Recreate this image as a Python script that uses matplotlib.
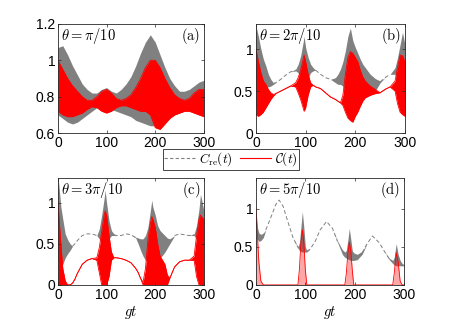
import matplotlib
matplotlib.use("Agg")
import matplotlib.pyplot as plt
from matplotlib.lines import Line2D
import numpy as np

plt.rcParams['mathtext.fontset'] = 'cm'
plt.rcParams['font.family'] = ['Liberation Sans', 'DejaVu Sans']

# ---- data (envelopes) ----
# (a) theta = pi/10
t_a = [0, 10, 20, 30, 40, 50, 60, 70, 80, 90, 100, 110, 120, 130, 140, 150,
       160, 170, 180, 190, 200, 210, 220, 230, 240, 250, 260, 270, 280, 290, 300]
gray_hi_a = [1.07, 1.08, 1.03, 0.97, 0.92, 0.87, 0.84, 0.82, 0.82, 0.84, 0.85, 0.83, 0.82, 0.84, 0.87, 0.91,
             0.97, 1.04, 1.10, 1.14, 1.10, 1.03, 0.96, 0.90, 0.86, 0.83, 0.83, 0.84, 0.86, 0.88, 0.89]
gray_lo_a = [0.70, 0.68, 0.66, 0.65, 0.66, 0.68, 0.70, 0.72, 0.74, 0.745, 0.74, 0.73, 0.72, 0.71, 0.70, 0.69,
             0.67, 0.66, 0.65, 0.64, 0.64, 0.65, 0.67, 0.69, 0.70, 0.71, 0.72, 0.73, 0.72, 0.71, 0.70]
red_hi_a = [1.0, 0.95, 0.90, 0.86, 0.83, 0.80, 0.78, 0.78, 0.80, 0.83, 0.84, 0.82, 0.79, 0.78, 0.79, 0.81,
            0.85, 0.90, 0.96, 1.0, 1.0, 0.96, 0.90, 0.85, 0.81, 0.79, 0.78, 0.79, 0.82, 0.84, 0.84]
red_lo_a = [0.72, 0.70, 0.69, 0.69, 0.70, 0.71, 0.73, 0.745, 0.74, 0.72, 0.71, 0.72, 0.74, 0.75, 0.75, 0.74,
            0.73, 0.72, 0.72, 0.70, 0.63, 0.62, 0.65, 0.68, 0.70, 0.71, 0.72, 0.72, 0.71, 0.70, 0.69]

# (b) theta = 2pi/10
t_b = [0, 5, 10, 15, 20, 25, 30, 35, 40, 50, 60, 70, 80, 85, 90, 95, 97, 100, 105, 110, 115, 120,
       130, 140, 150, 160, 165, 170, 175, 180, 185, 190, 195, 200, 205, 210, 215, 220,
       230, 240, 250, 260, 270, 280, 285, 290, 295, 300]
gray_hi_b = [1.28, 1.15, 1.0, 0.88, 0.8, 0.7, 0.64, 0.6, 0.6, 0.64, 0.69, 0.73, 0.76, 0.82, 0.92, 1.08, 1.15,
             1.02, 0.9, 0.82, 0.78, 0.75, 0.7, 0.66, 0.64, 0.66, 0.7, 0.76, 0.85, 0.98, 1.15, 1.25, 1.1,
             1.02, 0.95, 0.88, 0.82, 0.78, 0.7, 0.65, 0.62, 0.66, 0.7, 0.78, 0.9, 1.05, 1.2, 1.05]
gray_lo_b = [0.3, 0.35, 0.45, 0.52, 0.55, 0.55, 0.56, 0.58, 0.6, 0.64, 0.69, 0.73, 0.74, 0.72, 0.6, 0.5, 0.5,
             0.55, 0.65, 0.72, 0.74, 0.75, 0.7, 0.66, 0.64, 0.6, 0.58, 0.58, 0.56, 0.5, 0.4, 0.35, 0.35,
             0.4, 0.45, 0.5, 0.52, 0.52, 0.5, 0.5, 0.6, 0.66, 0.7, 0.7, 0.6, 0.45, 0.4, 0.4]
red_hi_b = [1.0, 0.85, 0.72, 0.62, 0.58, 0.52, 0.48, 0.46, 0.47, 0.5, 0.53, 0.56, 0.6, 0.66, 0.75, 0.88, 0.93,
            0.85, 0.7, 0.6, 0.57, 0.55, 0.53, 0.48, 0.43, 0.4, 0.38, 0.36, 0.45, 0.7, 0.9, 0.97, 0.95,
            0.9, 0.85, 0.75, 0.67, 0.62, 0.56, 0.52, 0.48, 0.52, 0.55, 0.62, 0.78, 0.93, 0.92, 0.85]
red_lo_b = [0.22, 0.2, 0.22, 0.25, 0.3, 0.35, 0.4, 0.44, 0.47, 0.5, 0.53, 0.56, 0.55, 0.48, 0.4, 0.3, 0.26,
            0.3, 0.45, 0.55, 0.57, 0.55, 0.53, 0.48, 0.43, 0.4, 0.38, 0.36, 0.33, 0.25, 0.18, 0.15, 0.13,
            0.2, 0.25, 0.32, 0.38, 0.42, 0.45, 0.47, 0.48, 0.52, 0.55, 0.5, 0.35, 0.25, 0.22, 0.2]

# (c) theta = 3pi/10
t_c = [0, 3, 6, 10, 15, 20, 25, 30, 35, 40, 50, 60, 70, 80, 85, 90, 95, 97, 100, 105, 110, 115, 120,
       130, 140, 150, 160, 165, 170, 175, 180, 185, 190, 193, 195, 200, 205, 210, 215, 220, 225, 230,
       240, 250, 260, 270, 280, 285, 290, 293, 295, 300]
gray_hi_c = [1.33, 1.15, 0.95, 0.8, 0.62, 0.55, 0.5, 0.47, 0.5, 0.54, 0.6, 0.62, 0.62, 0.6, 0.68, 0.85, 1.05,
             1.15, 1.0, 0.78, 0.66, 0.62, 0.6, 0.6, 0.62, 0.61, 0.58, 0.57, 0.56, 0.56, 0.6, 0.7, 0.9,
             1.03, 0.95, 0.85, 0.72, 0.66, 0.63, 0.6, 0.57, 0.56, 0.6, 0.62, 0.61, 0.6, 0.62, 0.72, 0.92,
             1.1, 1.05, 0.9]
gray_lo_c = [0.3, 0.25, 0.22, 0.25, 0.33, 0.38, 0.42, 0.47, 0.5, 0.54, 0.6, 0.62, 0.62, 0.6, 0.56, 0.5, 0.45,
             0.45, 0.5, 0.56, 0.6, 0.6, 0.6, 0.6, 0.62, 0.61, 0.57, 0.5, 0.42, 0.35, 0.3, 0.28, 0.25,
             0.25, 0.25, 0.28, 0.3, 0.33, 0.36, 0.4, 0.45, 0.5, 0.6, 0.62, 0.61, 0.6, 0.6, 0.55, 0.45,
             0.45, 0.45, 0.45]
red_hi_c = [1.0, 0.75, 0.5, 0.2, 0.05, 0.0, 0.0, 0.02, 0.07, 0.14, 0.25, 0.3, 0.32, 0.33, 0.45, 0.65, 0.85,
            0.9, 0.85, 0.6, 0.4, 0.33, 0.33, 0.32, 0.3, 0.27, 0.2, 0.15, 0.08, 0.03, 0.2, 0.55, 0.75,
            0.83, 0.8, 0.7, 0.5, 0.35, 0.3, 0.25, 0.12, 0.08, 0.22, 0.28, 0.3, 0.3, 0.35, 0.6, 0.8,
            0.85, 0.83, 0.8]
red_lo_c = [0, 0, 0, 0, 0, 0, 0, 0.02, 0.07, 0.14, 0.25, 0.3, 0.32, 0.3, 0.15, 0, 0,
            0, 0, 0.1, 0.3, 0.33, 0.33, 0.32, 0.3, 0.27, 0.2, 0.15, 0.08, 0, 0, 0, 0,
            0, 0, 0, 0, 0, 0, 0, 0, 0.08, 0.22, 0.28, 0.3, 0.3, 0.3, 0.1, 0,
            0, 0, 0]

# (d) theta = 5pi/10
t_d = [0, 3, 6, 10, 15, 20, 30, 40, 47, 55, 65, 75, 85, 88, 91, 94, 97, 100, 103, 110, 120, 130, 143,
       155, 165, 175, 180, 183, 186, 189, 192, 195, 198, 205, 215, 225, 236, 250, 260, 270,
       277, 280, 284, 288, 292, 296, 300]
gray_hi_d = [1.0, 0.75, 0.68, 0.66, 0.68, 0.72, 0.88, 1.05, 1.11, 1.03, 0.82, 0.62, 0.5, 0.55, 0.75, 0.96,
             0.75, 0.5, 0.45, 0.47, 0.57, 0.72, 0.83, 0.74, 0.58, 0.46, 0.43, 0.45, 0.58, 0.74, 0.6,
             0.45, 0.42, 0.4, 0.44, 0.54, 0.64, 0.55, 0.44, 0.35, 0.32, 0.36, 0.54, 0.4, 0.32, 0.28, 0.26]
gray_lo_d = [0.9, 0.6, 0.57, 0.58, 0.62, 0.72, 0.88, 1.05, 1.11, 1.03, 0.82, 0.62, 0.48, 0.45, 0.44, 0.43,
             0.43, 0.43, 0.43, 0.47, 0.57, 0.72, 0.83, 0.74, 0.56, 0.4, 0.36, 0.35, 0.34, 0.33, 0.32,
             0.32, 0.32, 0.33, 0.4, 0.54, 0.64, 0.55, 0.44, 0.33, 0.28, 0.26, 0.25, 0.25, 0.25, 0.25, 0.25]
red_hi_d = [1.0, 0.65, 0.3, 0.05, 0, 0, 0, 0, 0, 0, 0, 0, 0, 0.2, 0.55, 0.72,
            0.55, 0.2, 0, 0, 0, 0, 0, 0, 0, 0, 0, 0.15, 0.4, 0.56, 0.45,
            0.2, 0, 0, 0, 0, 0, 0, 0, 0, 0, 0.15, 0.42, 0.3, 0.05, 0, 0]
red_lo_d = [0] * len(t_d)

theta_labels = [r'$\theta = \pi/10$', r'$\theta = 2\pi/10$', r'$\theta = 3\pi/10$', r'$\theta = 5\pi/10$']
panel_tags = [r'$\mathrm{(a)}$', r'$\mathrm{(b)}$', r'$\mathrm{(c)}$', r'$\mathrm{(d)}$']
ylims = [(0.6, 1.2), (0, 1.3), (0, 1.3), (0, 1.4)]
yticks = [[0.6, 0.8, 1, 1.2], [0, 0.5, 1], [0, 0.5, 1], [0, 0.5, 1]]
ytick_labels = [['0.6', '0.8', '1', '1.2'], ['0', '0.5', '1'], ['0', '0.5', '1'], ['0', '0.5', '1']]
xticks = [0, 100, 200, 300]

GRAY = '#808080'
RED = '#ff0000'

fig = plt.figure(figsize=(4.49, 3.23), dpi=100)
boxes = [[0.129, 0.588, 0.325, 0.338], [0.570, 0.588, 0.332, 0.338],
         [0.129, 0.118, 0.325, 0.331], [0.570, 0.118, 0.330, 0.331]]
panels = [(t_a, gray_hi_a, gray_lo_a, red_hi_a, red_lo_a),
          (t_b, gray_hi_b, gray_lo_b, red_hi_b, red_lo_b),
          (t_c, gray_hi_c, gray_lo_c, red_hi_c, red_lo_c),
          (t_d, gray_hi_d, gray_lo_d, red_hi_d, red_lo_d)]

for i, (t, ghi, glo, rhi, rlo) in enumerate(panels):
    ax = fig.add_axes(boxes[i])
    ghi_arr = np.array(ghi)
    glo_arr = np.array(glo)
    # dashed C_re line only where the oscillation is small
    gmid = (ghi_arr + glo_arr) / 2
    gmid[(ghi_arr - glo_arr) > 0.04] = np.nan
    ax.fill_between(t, glo, ghi, color=GRAY, lw=0)
    ax.plot(t, gmid, color=GRAY, lw=0.7, dashes=(4, 2.5))
    ralpha = 0.35 if i == 3 else 1.0
    ax.fill_between(t, rlo, rhi, color=RED, lw=0, alpha=ralpha)
    ax.plot(t, rhi, color=RED, lw=0.6)
    ax.plot(t, rlo, color=RED, lw=0.6)

    ax.set_xlim(0, 300)
    ax.set_ylim(*ylims[i])
    ax.set_xticks(xticks)
    ax.set_xticklabels([str(x) for x in xticks])
    ax.set_yticks(yticks[i])
    ax.set_yticklabels(ytick_labels[i])
    ax.tick_params(direction='in', length=2.5, width=0.5, labelsize=10,
                   top=True, right=True, pad=2, color='#262626')
    for s in ax.spines.values():
        s.set_linewidth(0.6)
        s.set_color('#262626')
    ax.text(0.02, 0.985, theta_labels[i], transform=ax.transAxes, ha='left', va='top', fontsize=10.5)
    ax.text(0.975, 0.985, panel_tags[i], transform=ax.transAxes, ha='right', va='top', fontsize=10.5)
    if i >= 2:
        ax.set_xlabel(r'$gt$', fontsize=10.5, labelpad=2)

handles = [Line2D([], [], color=GRAY, lw=0.8, dashes=(3, 2)),
           Line2D([], [], color=RED, lw=0.8)]
labels = [r'$C_{\rm re}(t)$', r'$\mathcal{C}(t)$']
fig.legend(handles, labels, loc='center', bbox_to_anchor=(0.514, 0.506), ncol=2, fontsize=9.5,
           frameon=True, fancybox=False, edgecolor='#262626', framealpha=1,
           handlelength=2.3, handletextpad=0.3, columnspacing=0.6, borderpad=0.1,
           borderaxespad=0)
leg = fig.legends[0]
leg.get_frame().set_linewidth(0.6)

fig.savefig('out.png', dpi=100)
